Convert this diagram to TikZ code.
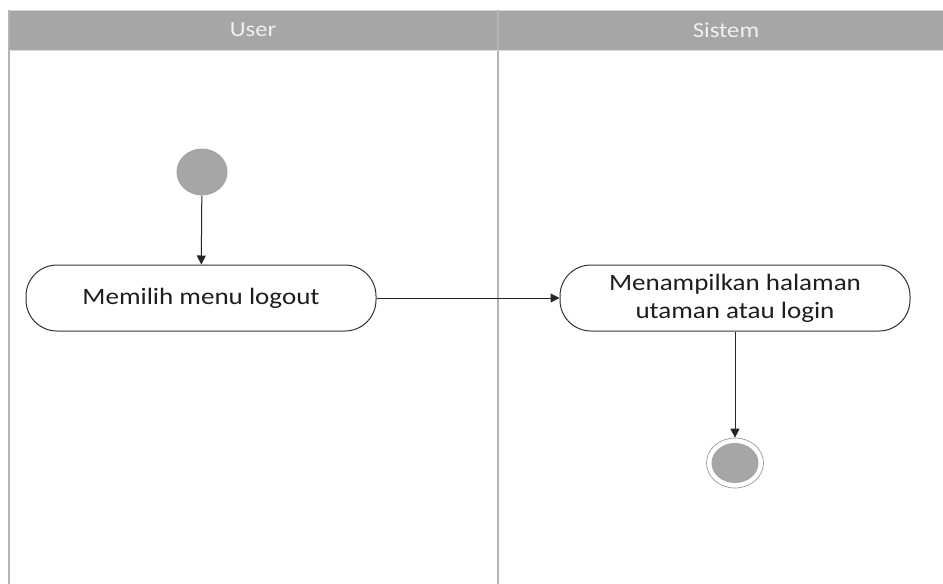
\documentclass[tikz,border=0pt]{standalone}
\usepackage{fontspec}
\setmainfont{Carlito}
\usetikzlibrary{shapes.geometric,arrows.meta}
\definecolor{hdr}{HTML}{A6A6A6}
\definecolor{lane}{HTML}{B4B4B4}
\definecolor{txt}{HTML}{1E1E1E}
\tikzset{
  actbox/.style={draw=black!80, line width=1pt, fill=white, rounded corners=31pt,
    minimum width=350pt, minimum height=66pt, align=center, text=txt,
    font=\fontsize{23.5}{28}\selectfont},
  flow/.style={draw=black!85, line width=1pt, -{Triangle[length=9pt,width=9pt]}},
  hdrtext/.style={text=white!94!black, font=\fontsize{21.5}{24}\selectfont}
}
\begin{document}
\begin{tikzpicture}[x=1pt,y=-1pt]
\useasboundingbox (0,0) rectangle (943,584);
\fill[white] (0,0) rectangle (943,584);
% header
\fill[hdr] (9,10) rectangle (943,50);
\draw[white!85!black, line width=1pt] (9,10) -- (943,10);
\draw[lane, line width=1.5pt] (9,10) -- (9,584);
\draw[lane, line width=1.5pt] (498,10) -- (498,584);
\draw[white!85!black, line width=1pt] (9,50) -- (943,50);
\node[hdrtext] (huser) at (253,30) {\scalebox{1.15}[1]{User}};
\node[hdrtext] (hsis) at (726,30) {\scalebox{1.15}[1]{Sistem}};
% nodes
\node[ellipse, fill=hdr, minimum width=51pt, minimum height=47pt, inner sep=0pt] (start) at (202,172) {};
\node[actbox] (a1) at (201,298) {\scalebox{1.15}[1]{Memilih menu logout}};
\node[actbox] (a2) at (735,298) {\scalebox{1.15}[1]{Menampilkan halaman}\\\scalebox{1.15}[1]{utaman atau login}};
\node[ellipse, draw=black!40, line width=0.7pt, fill=white, minimum width=57pt, minimum height=50pt, inner sep=0pt] (end) at (735,463) {};
\node[ellipse, fill=hdr, minimum width=47pt, minimum height=40pt, inner sep=0pt] (endin) at (end.center) {};
% connectors
\draw[flow] (start) -- (a1);
\draw[flow] (a1) -- (a2);
\draw[flow] (a2) -- (end);
\end{tikzpicture}
\end{document}
